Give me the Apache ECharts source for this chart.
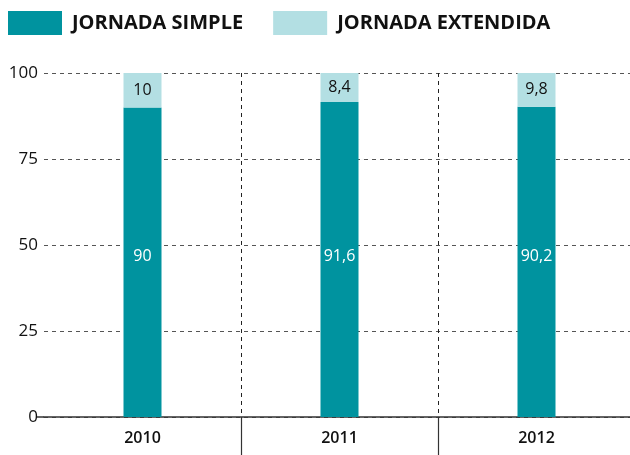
<!DOCTYPE html>
<html><head><meta charset="utf-8">
<script src="https://cdn.jsdelivr.net/npm/echarts@6/dist/echarts.min.js"></script>
<style>html,body{margin:0;padding:0;background:#fff;overflow:hidden}#c{width:637px;height:455px}</style>
</head><body><div id="c"></div>
<script>
var categories = ['2010', '2011', '2012'];
var simple = [90, 91.6, 90.2];
var extendida = [10, 8.4, 9.8];
var seriesNames = ['JORNADA SIMPLE', 'JORNADA EXTENDIDA'];
var yTicks = [0, 25, 50, 75, 100];

var FONT = '"Open Sans", "Noto Sans", sans-serif';
function fmt(v){ return String(v).replace('.', ','); }

var chart = echarts.init(document.getElementById('c'));
chart.setOption({
  animation: false,
  textStyle: { fontFamily: FONT },
  legend: {
    left: 3, top: 6, itemWidth: 54, itemHeight: 24, itemGap: 30,
    icon: 'rect',
    textStyle: { fontFamily: FONT, fontWeight: 'bold', fontSize: 20, color: '#111', padding: [0,0,0,5] },
    data: seriesNames
  },
  grid: { left: 44, right: 2, top: 73, bottom: 38, containLabel: false },
  xAxis: {
    type: 'category', data: categories,
    axisLine: { show: true, lineStyle: { color: '#333', width: 1.5 } },
    axisTick: { show: true, length: 38, interval: function(i){ return i > 0; }, lineStyle: { color: '#333', width: 1.2 } },
    axisLabel: { fontFamily: FONT, fontSize: 16, fontWeight: 600, color: '#111', margin: 13 },
    splitLine: { show: true, showMinLine: false, showMaxLine: false, lineStyle: { color: '#222', type: [4,4], width: 1 } }
  },
  yAxis: {
    type: 'value', min: yTicks[0], max: yTicks[yTicks.length-1], interval: 25,
    axisLine: { show: false }, axisTick: { show: false },
    axisLabel: { fontFamily: FONT, fontSize: 17, color: '#111', margin: 6 },
    splitLine: { show: true, lineStyle: { color: '#555', type: [4,4], width: 1 } }
  },
  series: [
    { name: seriesNames[0], type: 'bar', stack: 's', data: simple, barWidth: 38,
      itemStyle: { color: '#00939F' },
      label: { show: true, position: 'insideBottom', distance: 150, color: '#fff', fontFamily: FONT, fontSize: 16, fontWeight: 500, lineHeight: 22, formatter: function(p){ return fmt(p.value); } } },
    { name: seriesNames[1], type: 'bar', stack: 's', data: extendida, barWidth: 38,
      itemStyle: { color: '#B3DFE3' },
      label: { show: true, position: 'inside', color: '#111', fontFamily: FONT, fontSize: 16, fontWeight: 500, formatter: function(p){ return fmt(p.value); } } }
  ],
  graphic: [
    { type: 'line', shape: { x1: 37, y1: 417, x2: 44, y2: 417 }, style: { stroke: '#333', lineWidth: 1.5 } }
  ]
});
</script></body></html>
